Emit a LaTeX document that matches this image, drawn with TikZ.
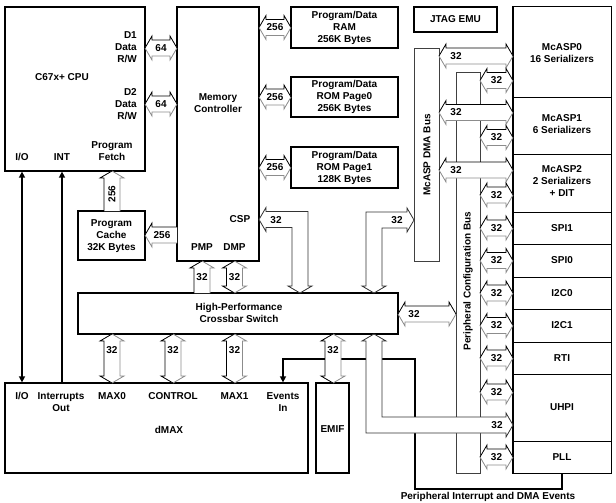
\documentclass[tikz,border=0pt]{standalone}
\usepackage{fontspec}
\setmainfont{Liberation Sans}
\usetikzlibrary{arrows.meta,fit}

\tikzset{
  box/.style={draw=black, line width=1.3pt, inner sep=0pt},
  pbox/.style={draw=black, line width=1pt, inner sep=0pt},
  busbox/.style={draw=black!75, line width=0.8pt, inner sep=0pt},
  lbl/.style={font=\fontsize{10}{12}\selectfont\bfseries, align=center, inner sep=0pt},
  num/.style={font=\fontsize{10}{12}\selectfont\bfseries, inner sep=0pt},
  hi/.style={draw=black, line width=0.8pt},
  lo/.style={draw=black!45, line width=0.8pt},
  bent/.style={draw=black!80, line width=0.8pt, fill=white},
  sig/.style={line width=2pt},
  tip/.tip={Triangle[length=6pt,width=6pt]},
}

% horizontal double block arrow: x1, x2, y
\newcommand\HD[3]{%
  \path[fill=white] (#1,#3) -- ({#1+7},{#3-12}) -- ({#1+7},{#3-8}) -- ({#2-7},{#3-8}) -- ({#2-7},{#3-12}) -- (#2,#3)
     -- ({#2-7},{#3+12}) -- ({#2-7},{#3+8}) -- ({#1+7},{#3+8}) -- ({#1+7},{#3+12}) -- cycle;
  \draw[lo] (#2,#3) -- ({#2-7},{#3+12}) -- ({#2-7},{#3+8}) -- ({#1+7},{#3+8}) -- ({#1+7},{#3+12}) -- (#1,#3);
  \draw[hi] (#1,#3) -- ({#1+7},{#3-12}) -- ({#1+7},{#3-8}) -- ({#2-7},{#3-8}) -- ({#2-7},{#3-12}) -- (#2,#3);
}
% vertical double block arrow: x, y1 (top), y2 (bottom)
\newcommand\VD[3]{%
  \path[fill=white] (#1,#2) -- ({#1-12},{#2+7}) -- ({#1-8},{#2+7}) -- ({#1-8},{#3-7}) -- ({#1-12},{#3-7}) -- (#1,#3)
     -- ({#1+12},{#3-7}) -- ({#1+8},{#3-7}) -- ({#1+8},{#2+7}) -- ({#1+12},{#2+7}) -- cycle;
  \draw[lo] (#1,#2) -- ({#1+12},{#2+7}) -- ({#1+8},{#2+7}) -- ({#1+8},{#3-7}) -- ({#1+12},{#3-7}) -- (#1,#3);
  \draw[hi] (#1,#2) -- ({#1-12},{#2+7}) -- ({#1-8},{#2+7}) -- ({#1-8},{#3-7}) -- ({#1-12},{#3-7}) -- (#1,#3);
}
% single block arrow pointing left: tip x1, tail x2, y
\newcommand\SL[3]{%
  \path[fill=white] (#1,#3) -- ({#1+7},{#3-12}) -- ({#1+7},{#3-8}) -- (#2,{#3-8}) -- (#2,{#3+8}) -- ({#1+7},{#3+8}) -- ({#1+7},{#3+12}) -- cycle;
  \draw[lo] (#1,#3) -- ({#1+7},{#3+12}) -- ({#1+7},{#3+8}) -- (#2,{#3+8});
  \draw[hi] (#1,#3) -- ({#1+7},{#3-12}) -- ({#1+7},{#3-8}) -- (#2,{#3-8});
}
% single block arrow pointing up: x, tip y1, tail y2
\newcommand\SU[3]{%
  \path[fill=white] (#1,#2) -- ({#1-12},{#2+7}) -- ({#1-8},{#2+7}) -- ({#1-8},#3) -- ({#1+8},#3) -- ({#1+8},{#2+7}) -- ({#1+12},{#2+7}) -- cycle;
  \draw[lo] (#1,#2) -- ({#1+12},{#2+7}) -- ({#1+8},{#2+7}) -- ({#1+8},#3);
  \draw[hi] (#1,#2) -- ({#1-12},{#2+7}) -- ({#1-8},{#2+7}) -- ({#1-8},#3);
}

\begin{document}
\begin{tikzpicture}[x=1pt,y=-1pt]
\useasboundingbox[fill=white] (0,0) rectangle (616,503);

% ---------------- boxes ----------------
\node[box, fit={(5,7)(145,171)}] (cpu) {};
\node[box, fit={(177,7)(259,261)}] (mc) {};
\node[box, fit={(291,7)(398,48)}] (ram) {};
\node[box, fit={(291,77)(398,117)}] (rom0) {};
\node[box, fit={(291,147)(398,188)}] (rom1) {};
\node[box, fit={(414,7)(497,32)}] (jtag) {};
\node[box, fit={(78,211)(145,260)}] (cache) {};
\node[busbox, fit={(414,48)(439,261)}] (dmabus) {};
\node[busbox, fit={(456,72)(480,473)}] (cfgbus) {};
\node[box, fit={(78,293)(398,334)}] (xbar) {};
\node[box, fit={(5,383)(308,473)}] (dmax) {};
\node[box, fit={(316,383)(349,473)}] (emif) {};

\node[pbox, fit={(513,7)(611,97)}] (mcasp0) {};
\node[pbox, fit={(513,97)(611,154)}] (mcasp1) {};
\node[pbox, fit={(513,154)(611,212)}] (mcasp2) {};
\node[pbox, fit={(513,212)(611,244)}] (spi1) {};
\node[pbox, fit={(513,244)(611,277)}] (spi0) {};
\node[pbox, fit={(513,277)(611,309)}] (i2c0) {};
\node[pbox, fit={(513,309)(611,342)}] (i2c1) {};
\node[pbox, fit={(513,342)(611,374)}] (rti) {};
\node[pbox, fit={(513,374)(611,441)}] (uhpi) {};
\node[pbox, fit={(513,441)(611,473)}] (pll) {};
\draw[line width=1.6pt] (mcasp0.north west) rectangle (pll.south east);

% ---------------- box texts ----------------
\node[lbl] (ramtxt) at (ram.center) {Program/Data\\RAM\\256K Bytes};
\node[lbl] (rom0txt) at (rom0.center) {Program/Data\\ROM Page0\\256K Bytes};
\node[lbl] (rom1txt) at (rom1.center) {Program/Data\\ROM Page1\\128K Bytes};
\node[lbl] (jtagtxt) at (jtag.center) {JTAG EMU};
\node[lbl] (cachetxt) at ([yshift=-1pt]cache.center) {Program\\Cache\\32K Bytes};
\node[lbl] (emiftxt) at (332.5,429) {EMIF};
\node[lbl] (mcasp0txt) at ([yshift=-1pt]mcasp0.center) {McASP0\\16 Serializers};
\node[lbl] (mcasp1txt) at ([yshift=1pt]mcasp1.center) {McASP1\\6 Serializers};
\node[lbl] (mcasp2txt) at ([yshift=2pt]mcasp2.center) {McASP2\\2 Serializers\\+ DIT};
\node[lbl] (spi1txt) at (spi1.center) {SPI1};
\node[lbl] (spi0txt) at (spi0.center) {SPI0};
\node[lbl] (i2c0txt) at (i2c0.center) {I2C0};
\node[lbl] (i2c1txt) at (i2c1.center) {I2C1};
\node[lbl] (rtitxt) at (rti.center) {RTI};
\node[lbl] (uhpitxt) at (uhpi.center) {UHPI};
\node[lbl] (plltxt) at (pll.center) {PLL};

\node[lbl] (cpuname) at (62,77) {C67x+ CPU};
\node[lbl, align=right, anchor=east] (d1) at (137,47) {D1\\Data\\R/W};
\node[lbl, align=right, anchor=east] (d2) at (137,104) {D2\\Data\\R/W};
\node[lbl] (cpuio) at (22,157) {I/O};
\node[lbl] (cpuint) at (62,157) {INT};
\node[lbl] (pfetch) at (112,151) {Program\\Fetch};

\node[lbl] (mcname) at (218,103) {Memory\\Controller};
\node[lbl] (csp) at (240,219) {CSP};
\node[lbl] (pmp) at (202,247) {PMP};
\node[lbl] (dmp) at (234.5,247) {DMP};

\node[lbl] (xbarname) at (239,313) {High-Performance\\Crossbar Switch};

\node[lbl] (dmaxio) at (22,396) {I/O};
\node[lbl] (intout) at (61,402.5) {Interrupts\\Out};
\node[lbl] (max0) at (112,396) {MAX0};
\node[lbl] (control) at (173,396) {CONTROL};
\node[lbl] (max1) at (234.5,396) {MAX1};
\node[lbl] (evin) at (283,402) {Events\\In};
\node[lbl] (dmaxname) at (169,430) {dMAX};

\node[lbl, rotate=90] (dmalbl) at (427,155) {McASP DMA Bus};
\node[lbl, rotate=90] (cfglbl) at (468,281) {Peripheral Configuration Bus};
\node[lbl] (evlbl) at (488,497) {Peripheral Interrupt and DMA Events};

% ---------------- signal lines ----------------
\coordinate (evb) at (415,489);
\coordinate (evt) at (415,359);
\draw[sig, tip-tip] (cpuio |- dmax.north) -- (cpuio |- cpu.south);
\draw[sig, -tip] (cpuint |- dmax.north) -- (cpuint |- cpu.south);
\draw[sig, -tip] (pll.south) |- (evb) -- (evt) -| (evin |- dmax.north);

% ---------------- block arrows ----------------
\HD{145}{177}{48}
\HD{145}{177}{104}
\HD{259}{291}{27.5}
\HD{259}{291}{97}
\HD{259}{291}{167.5}
\SL{145}{177}{235}
\SU{112}{171}{211}
\SU{202}{261}{293}
\VD{234.5}{261}{293}

\HD{439}{513}{56}
\HD{439}{513}{112.5}
\HD{439}{513}{170}
\foreach \yy in {80.5,137.5,195,228,260.5,293,325.5,358,392,457}{\HD{480}{513}{\yy}}
\HD{398}{456}{314}

\VD{112}{334}{383}
\VD{173}{334}{383}
\VD{234.5}{334}{383}
\VD{333}{334}{383}

% CSP bent arrow
\draw[bent] (259,219.5) -- (266,207.5) -- (266,211.5) -- (308,211.5) -- (308,286) -- (312,286) -- (300,293)
  -- (288,286) -- (292,286) -- (292,227.5) -- (266,227.5) -- (266,231.5) -- cycle;
% DMA bus bent arrow
\draw[bent] (414,220) -- (407,208) -- (407,212) -- (366,212) -- (366,286) -- (362,286) -- (374,293)
  -- (386,286) -- (382,286) -- (382,228) -- (407,228) -- (407,232) -- cycle;
% UHPI bent arrow
\draw[bent] (374,334) -- (386,341) -- (382,341) -- (382,417) -- (506,417) -- (506,413) -- (513,425)
  -- (506,437) -- (506,433) -- (366,433) -- (366,341) -- (362,341) -- cycle;

% ---------------- arrow labels ----------------
\node[num] (n64a) at (161,48) {64};
\node[num] (n64b) at (161,104) {64};
\node[num] (n256a) at (275,27.5) {256};
\node[num] (n256b) at (275,97) {256};
\node[num] (n256c) at (275,167.5) {256};
\node[num] (n256d) at (162,235) {256};
\node[num, rotate=90] (n256e) at (112,194) {256};
\node[num] (npmp) at (202,277) {32};
\node[num] (ndmp) at (234.5,277) {32};
\node[num] (ncsp) at (276,220) {32};
\node[num] (ndma) at (397,220) {32};
\node[num] (nxcfg) at (414,314) {32};
\node[num] (nmax0) at (112,350) {32};
\node[num] (nctl) at (173,350) {32};
\node[num] (nmax1) at (234.5,350) {32};
\node[num] (nemif) at (333,350) {32};
\node[num] (nuhpi) at (497,425) {32};
\node[num] (nd0) at (456,56) {32};
\node[num] (nd1) at (456,112.5) {32};
\node[num] (nd2) at (456,170) {32};
\foreach \yy [count=\i] in {80.5,137.5,195,228,260.5,293,325.5,358,392,457}{\node[num] (nc\i) at (496.5,\yy) {32};}
\end{tikzpicture}
\end{document}
